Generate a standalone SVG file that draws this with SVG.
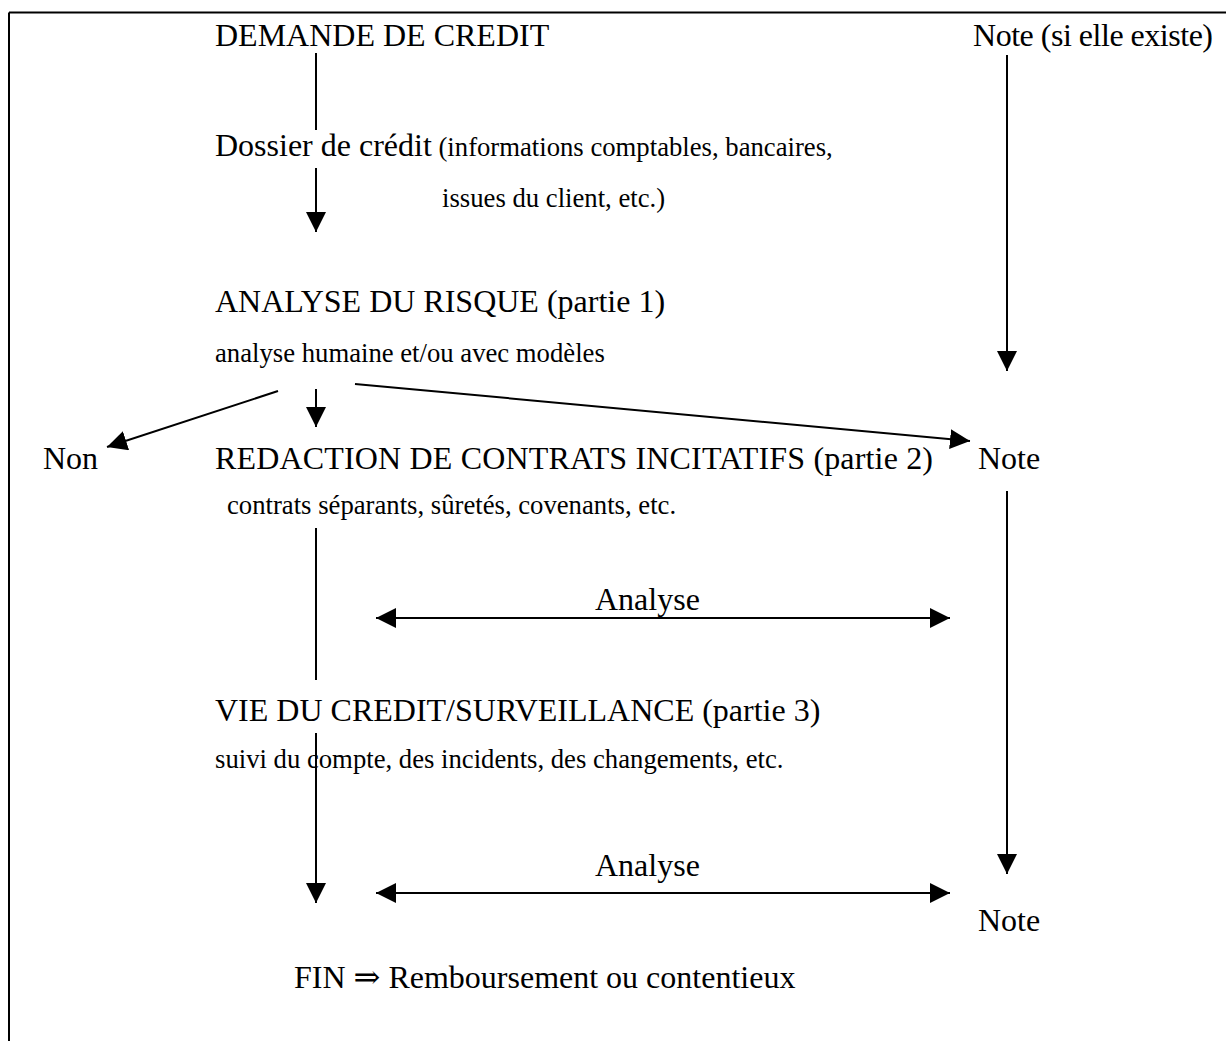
<svg xmlns="http://www.w3.org/2000/svg" width="1226" height="1041" viewBox="0 0 1226 1041">
<style>
text{font-family:"Liberation Serif","DejaVu Serif",serif;fill:#000}
.l{font-size:32px}
.s{font-size:26.7px}
.ln{stroke:#000;stroke-width:2;fill:none}
.a{marker-end:url(#ah)}
.b{marker-start:url(#ah);marker-end:url(#ah)}
</style>
<defs>
<marker id="ah" markerUnits="userSpaceOnUse" markerWidth="20" markerHeight="20" refX="20" refY="10" orient="auto-start-reverse" viewBox="0 0 20 20">
<path d="M0,0 L20,10 L0,20 z" fill="#000"/>
</marker>
</defs>
<rect width="1226" height="1041" fill="#fff"/>
<g id="frame">
<line class="ln" x1="9" y1="12.5" x2="1226" y2="12.5"/>
<line class="ln" x1="9" y1="12.5" x2="9" y2="1041"/>
</g>
<g id="connectors">
<line class="ln" x1="316" y1="53" x2="316" y2="130"/>
<line class="ln a" x1="316" y1="168" x2="316" y2="232"/>
<line class="ln a" x1="1007" y1="55" x2="1007" y2="371"/>
<line class="ln a" x1="278" y1="391" x2="107" y2="447"/>
<line class="ln a" x1="316" y1="389" x2="316" y2="427"/>
<line class="ln a" x1="355" y1="384" x2="970" y2="441"/>
<line class="ln" x1="316" y1="528" x2="316" y2="680"/>
<line class="ln a" x1="1007" y1="491" x2="1007" y2="874"/>
<line class="ln b" x1="376" y1="618" x2="950" y2="618"/>
<line class="ln a" x1="316" y1="733" x2="316" y2="903"/>
<line class="ln b" x1="376" y1="893" x2="950" y2="893"/>
</g>
<g id="demande"><text class="l" x="215" y="46">DEMANDE DE CREDIT</text></g>
<g id="note-existe"><text class="l" x="973" y="46" textLength="240" lengthAdjust="spacing">Note (si elle existe)</text></g>
<g id="dossier">
<text x="215" y="156"><tspan class="l">Dossier de crédit</tspan><tspan class="s"> (informations comptables, bancaires,</tspan></text>
<text class="s" x="442" y="207">issues du client, etc.)</text>
</g>
<g id="analyse-risque">
<text class="l" x="215" y="312">ANALYSE DU RISQUE (partie 1)</text>
<text class="s" x="215" y="362">analyse humaine et/ou avec modèles</text>
</g>
<g id="non"><text class="l" x="43" y="469">Non</text></g>
<g id="redaction">
<text class="l" x="215" y="469" textLength="718" lengthAdjust="spacing">REDACTION DE CONTRATS INCITATIFS (partie 2)</text>
<text class="s" x="227" y="514">contrats séparants, sûretés, covenants, etc.</text>
</g>
<g id="note-1"><text class="l" x="978" y="469">Note</text></g>
<g id="analyse-1"><text class="l" x="595" y="610">Analyse</text></g>
<g id="vie-credit">
<text class="l" x="215" y="721">VIE DU CREDIT/SURVEILLANCE (partie 3)</text>
<text class="s" x="215" y="768">suivi du compte, des incidents, des changements, etc.</text>
</g>
<g id="analyse-2"><text class="l" x="595" y="876">Analyse</text></g>
<g id="note-2"><text class="l" x="978" y="931">Note</text></g>
<g id="fin"><text class="l" x="294" y="988">FIN ⇒ Remboursement ou contentieux</text></g>
</svg>
